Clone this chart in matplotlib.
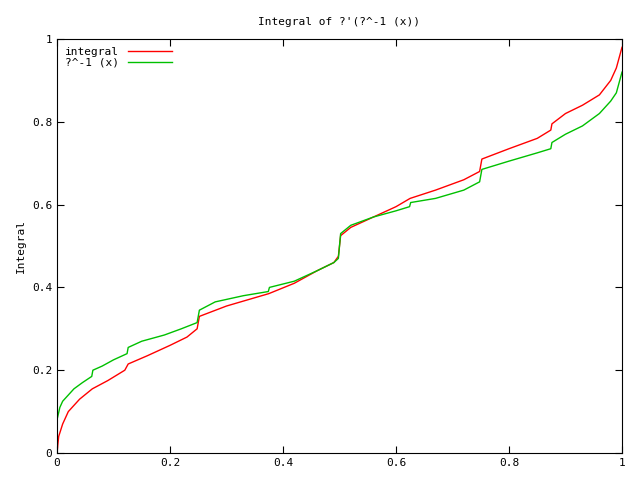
import matplotlib
matplotlib.use("Agg")
import matplotlib.pyplot as plt
from matplotlib.ticker import FuncFormatter

plt.rcParams['font.family'] = ['DejaVu Sans Mono']
plt.rcParams['font.size'] = 8

gx = [0, 0.005, 0.01, 0.02, 0.03, 0.045, 0.0615, 0.0635, 0.08, 0.1, 0.124, 0.126, 0.15, 0.19, 0.22, 0.248, 0.252, 0.28, 0.33, 0.374, 0.376, 0.42, 0.46, 0.49, 0.498, 0.502, 0.52, 0.56, 0.6, 0.624, 0.626, 0.67, 0.72, 0.748, 0.752, 0.8, 0.85, 0.874, 0.876, 0.9, 0.93, 0.96, 0.98, 0.99, 1.0]
gy = [0.08, 0.11, 0.125, 0.14, 0.155, 0.17, 0.185, 0.2, 0.21, 0.225, 0.24, 0.255, 0.27, 0.285, 0.3, 0.315, 0.345, 0.365, 0.38, 0.39, 0.4, 0.415, 0.44, 0.46, 0.47, 0.53, 0.55, 0.57, 0.585, 0.595, 0.605, 0.615, 0.635, 0.655, 0.685, 0.705, 0.725, 0.735, 0.75, 0.77, 0.79, 0.82, 0.85, 0.87, 0.92]
rx = [0, 0.003, 0.01, 0.02, 0.04, 0.0625, 0.09, 0.12, 0.126, 0.16, 0.2, 0.23, 0.248, 0.252, 0.3, 0.35, 0.375, 0.42, 0.46, 0.49, 0.498, 0.502, 0.52, 0.56, 0.6, 0.625, 0.67, 0.72, 0.748, 0.752, 0.8, 0.85, 0.874, 0.876, 0.9, 0.93, 0.96, 0.98, 0.99, 1.0]
ry = [0.0, 0.04, 0.07, 0.1, 0.13, 0.155, 0.175, 0.2, 0.215, 0.235, 0.26, 0.28, 0.3, 0.33, 0.355, 0.375, 0.385, 0.41, 0.44, 0.46, 0.475, 0.525, 0.545, 0.57, 0.595, 0.615, 0.635, 0.66, 0.68, 0.71, 0.735, 0.76, 0.78, 0.795, 0.82, 0.84, 0.865, 0.9, 0.93, 0.98]

fig = plt.figure(figsize=(6.4, 4.8), dpi=100)
ax = fig.add_axes([57/640, 27/480, 565/640, 414/480])
ax.plot(rx, ry, color='#ff0000', lw=1, label='integral')
ax.plot(gx, gy, color='#00c000', lw=1, label='?^-1 (x)')
ax.set_xlim(0, 1)
ax.set_ylim(0, 1)
ticks = [0, 0.2, 0.4, 0.6, 0.8, 1]
ax.set_xticks(ticks)
ax.set_yticks(ticks)
fmt = FuncFormatter(lambda v, p: '%g' % v)
ax.xaxis.set_major_formatter(fmt)
ax.yaxis.set_major_formatter(fmt)
ax.tick_params(direction='in', top=True, right=True, length=5)
ax.set_ylabel('Integral')
ax.set_title('Integral of ?\'(?^-1 (x))', fontsize=8, pad=10)
ax.legend(loc='upper left', frameon=False, markerfirst=False, handlelength=4, borderaxespad=0.3, labelspacing=0.1)
fig.savefig('out.png')
